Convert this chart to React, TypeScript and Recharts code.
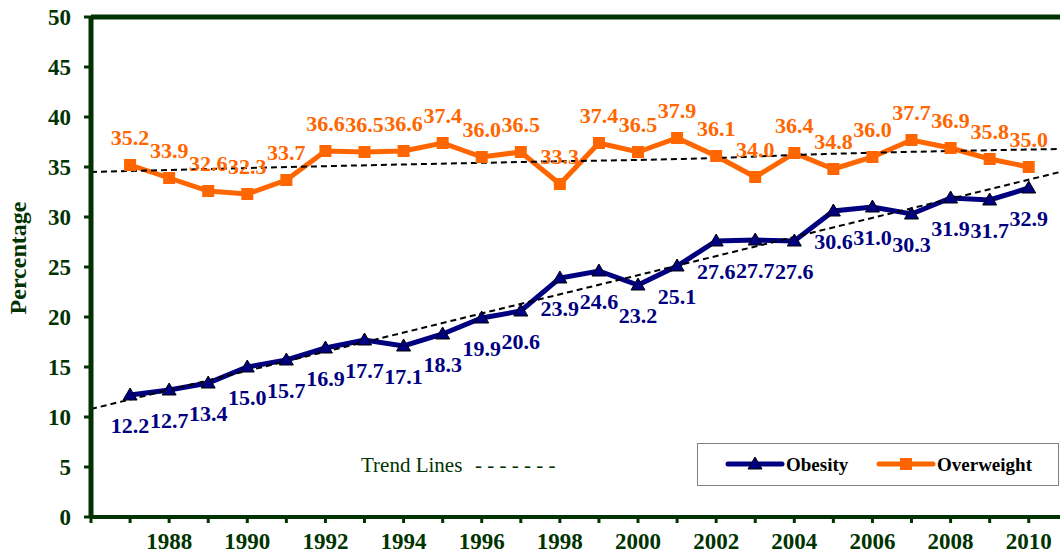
import React from 'react';
import { LineChart, Line, XAxis, YAxis, ReferenceLine, LabelList } from 'recharts';

const years = [1987, 1988, 1989, 1990, 1991, 1992, 1993, 1994, 1995, 1996, 1997, 1998, 1999, 2000, 2001, 2002, 2003, 2004, 2005, 2006, 2007, 2008, 2009, 2010];
const obesity = [12.2, 12.7, 13.4, 15.0, 15.7, 16.9, 17.7, 17.1, 18.3, 19.9, 20.6, 23.9, 24.6, 23.2, 25.1, 27.6, 27.7, 27.6, 30.6, 31.0, 30.3, 31.9, 31.7, 32.9];
const overweight = [35.2, 33.9, 32.6, 32.3, 33.7, 36.6, 36.5, 36.6, 37.4, 36.0, 36.5, 33.3, 37.4, 36.5, 37.9, 36.1, 34.0, 36.4, 34.8, 36.0, 37.7, 36.9, 35.8, 35.0];

const obesityTrendYears = [1986, 2010.8];
const obesityTrendValues = [10.8, 34.5];
const overweightTrendYears = [1986, 1990, 1997, 2002, 2004, 2008, 2010.8];
const overweightTrendValues = [34.5, 34.9, 35.5, 35.9, 36.2, 36.6, 36.8];

const yTicks = [0, 5, 10, 15, 20, 25, 30, 35, 40, 45, 50];
const xTicks = [1986, 1987, 1988, 1989, 1990, 1991, 1992, 1993, 1994, 1995, 1996, 1997, 1998, 1999, 2000, 2001, 2002, 2003, 2004, 2005, 2006, 2007, 2008, 2009, 2010];
const xTickLabels = ['1988', '1990', '1992', '1994', '1996', '1998', '2000', '2002', '2004', '2006', '2008', '2010'];

const data = years.map((year, i) => ({ year, obesity: obesity[i], overweight: overweight[i] }));
const obesityTrend = obesityTrendYears.map((year, i) => ({ year, trend: obesityTrendValues[i] }));
const overweightTrend = overweightTrendYears.map((year, i) => ({ year, trend: overweightTrendValues[i] }));

const GREEN = '#003300';
const NAVY = '#000080';
const ORANGE = '#FF6600';
const FONT = '"Liberation Serif", "Times New Roman", serif';

const TriangleDot = (props: any) => {
  const { cx, cy, index } = props;
  if (cx == null || cy == null) return <g key={`t-${index}`} />;
  return (
    <path
      key={`t-${index}`}
      d={`M${cx},${cy - 7} L${cx + 7},${cy + 5} L${cx - 7},${cy + 5} Z`}
      fill={NAVY}
      stroke="#000"
      strokeWidth={1}
    />
  );
};

const SquareDot = (props: any) => {
  const { cx, cy, index } = props;
  if (cx == null || cy == null) return <g key={`s-${index}`} />;
  return <rect key={`s-${index}`} x={cx - 6} y={cy - 6} width={12} height={12} fill={ORANGE} />;
};

const makeLabel = (color: string, dy: number) => (props: any) => {
  const { x, y, value, index } = props;
  return (
    <text
      key={`l-${color}-${index}`}
      x={x}
      y={y + dy}
      textAnchor="middle"
      fill={color}
      fontFamily={FONT}
      fontWeight="bold"
      fontSize={22}
    >
      {Number(value).toFixed(1)}
    </text>
  );
};

export default function App() {
  return (
    <div style={{ position: 'absolute', left: 0, top: 0, width: 1060, height: 560, overflow: 'hidden', background: '#fff' }}>
      <LineChart width={1060} height={560} data={data} margin={{ top: 17, right: 0, bottom: 0, left: 0 }}>
        <XAxis
          dataKey="year"
          type="number"
          domain={[1986, 2010.8]}
          ticks={xTicks}
          interval={0}
          height={43}
          tickFormatter={(v: number) => (xTickLabels.includes(String(v)) ? String(v) : '')}
          tick={{ fill: GREEN, fontSize: 23, fontWeight: 'bold', fontFamily: FONT }}
          tickLine={{ stroke: GREEN, strokeWidth: 3 }}
          tickSize={6}
          tickMargin={10}
          axisLine={{ stroke: GREEN, strokeWidth: 4 }}
        />
        <YAxis
          type="number"
          domain={[0, 50]}
          ticks={yTicks}
          interval={0}
          width={91}
          tick={{ fill: GREEN, fontSize: 23, fontWeight: 'bold', fontFamily: FONT }}
          tickLine={{ stroke: GREEN, strokeWidth: 3 }}
          tickSize={7}
          tickMargin={13}
          axisLine={{ stroke: GREEN, strokeWidth: 5 }}
        />
        <ReferenceLine y={50} stroke={GREEN} strokeWidth={5} />
        <Line
          dataKey="obesity"
          stroke={NAVY}
          strokeWidth={5}
          dot={TriangleDot}
          activeDot={false}
          isAnimationActive={false}
          type="linear"
        >
          <LabelList dataKey="obesity" content={makeLabel(NAVY, 38)} />
        </Line>
        <Line
          dataKey="overweight"
          stroke={ORANGE}
          strokeWidth={5}
          dot={SquareDot}
          activeDot={false}
          isAnimationActive={false}
          type="linear"
        >
          <LabelList dataKey="overweight" content={makeLabel(ORANGE, -20)} />
        </Line>
        <Line
          data={obesityTrend}
          dataKey="trend"
          stroke="#000"
          strokeWidth={2}
          strokeDasharray="6 4"
          dot={false}
          activeDot={false}
          isAnimationActive={false}
          type="linear"
        />
        <Line
          data={overweightTrend}
          dataKey="trend"
          stroke="#000"
          strokeWidth={2}
          strokeDasharray="6 4"
          dot={false}
          activeDot={false}
          isAnimationActive={false}
          type="monotone"
        />
      </LineChart>
      <svg width={1060} height={560} style={{ position: 'absolute', left: 0, top: 0, pointerEvents: 'none' }}>
        <text
          x={18}
          y={258}
          transform="rotate(-90 18 258)"
          textAnchor="middle"
          dominantBaseline="central"
          fill={GREEN}
          fontFamily={FONT}
          fontWeight="bold"
          fontSize={24}
        >
          Percentage
        </text>
        <text x={361} y={472} fill={GREEN} fontFamily={FONT} fontSize={21}>Trend Lines</text>
        <text x={475} y={472} fill={GREEN} fontFamily={FONT} fontSize={21} style={{ whiteSpace: 'pre' }}>- - - - - - -</text>
        <g transform="translate(697,443)">
          <rect x={0.5} y={0.5} width={361} height={42} fill="#fff" stroke="#808080" strokeWidth={1} />
          <line x1={31} y1={21} x2={85} y2={21} stroke={NAVY} strokeWidth={5} strokeLinecap="round" />
          <path d="M58,14 L65,26 L51,26 Z" fill={NAVY} stroke="#000" strokeWidth={1} />
          <text x={89} y={28} fill="#000" fontFamily={FONT} fontWeight="bold" fontSize={19}>Obesity</text>
          <line x1={182} y1={21} x2={236} y2={21} stroke={ORANGE} strokeWidth={5} strokeLinecap="round" />
          <rect x={203} y={15} width={12} height={12} fill={ORANGE} />
          <text x={240} y={28} fill="#000" fontFamily={FONT} fontWeight="bold" fontSize={19}>Overweight</text>
        </g>
      </svg>
    </div>
  );
}
